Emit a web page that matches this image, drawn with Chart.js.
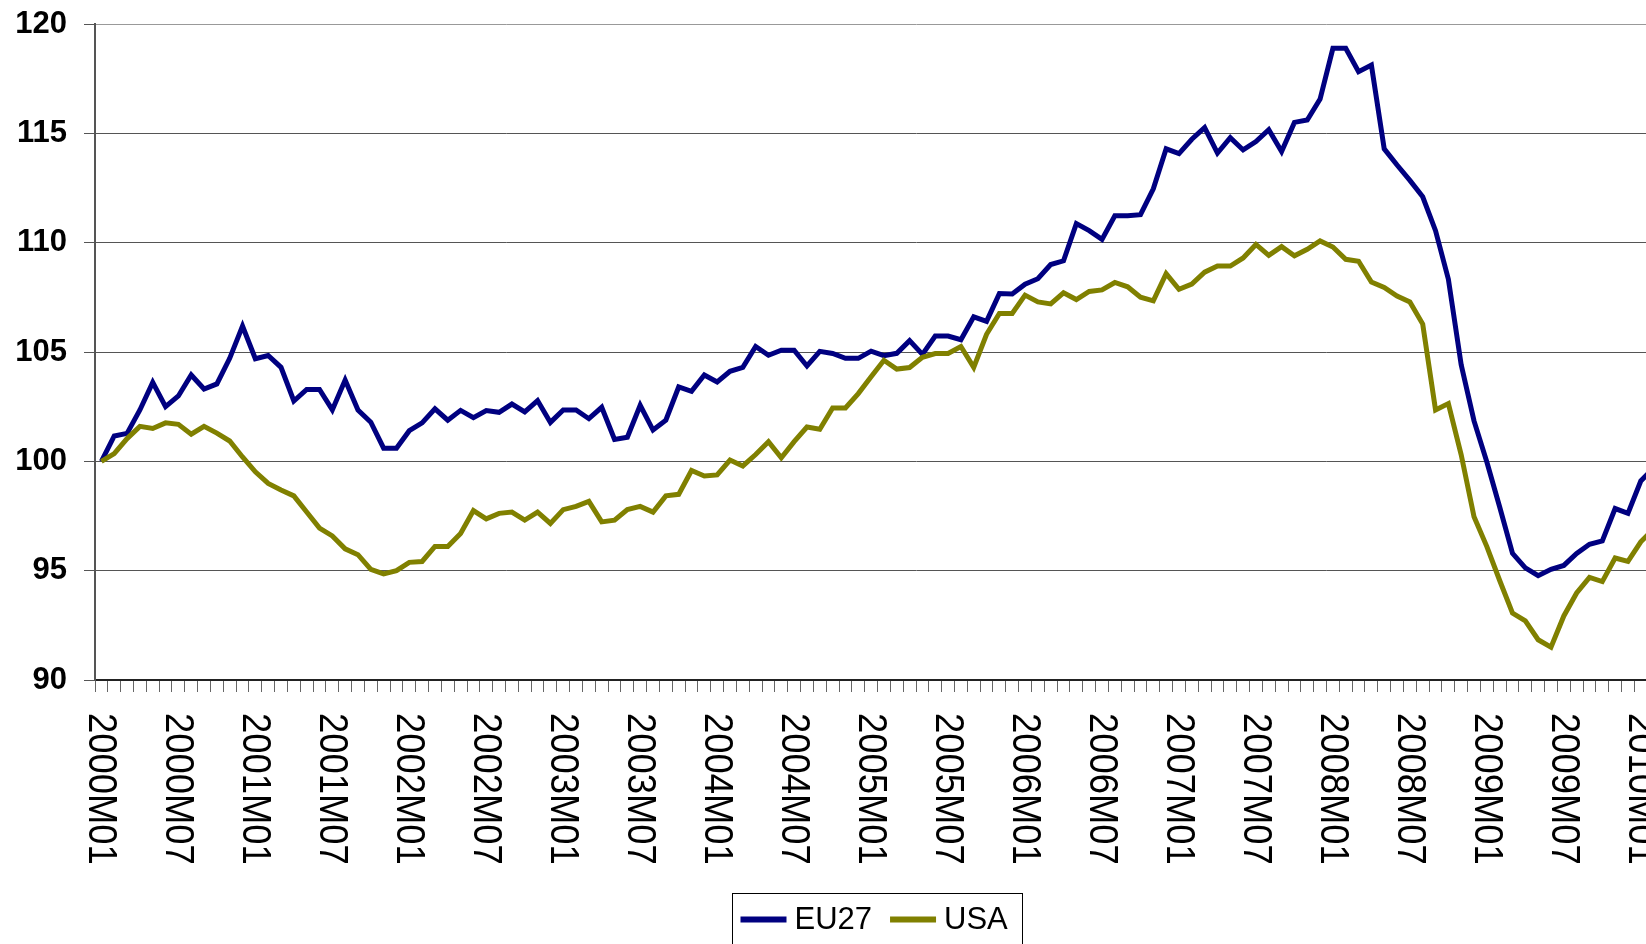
<!DOCTYPE html>
<html>
<head>
<meta charset="utf-8">
<title>EU27 vs USA</title>
<script src="https://cdn.jsdelivr.net/npm/chart.js@4.4.1/dist/chart.umd.min.js"></script>
<style>
  html, body { margin: 0; padding: 0; background: #fff; overflow: hidden; }
  .chart__wrapper { position: absolute; left: 0; top: 0; width: 1737px; height: 944px; }
</style>
</head>
<body>
<div class="chart__wrapper"><canvas id="myChart"></canvas></div>
<script>
"use strict";

// categories: monthly, 2000M01 .. 2010M08 (the right end is cut off by the window)
const years = [2000, 2001, 2002, 2003, 2004, 2005, 2006, 2007, 2008, 2009, 2010];
const monthCodes = ["01", "02", "03", "04", "05", "06", "07", "08", "09", "10", "11", "12"];
const lastMonthIndex = 128;

const months = [];
years.forEach((year) => {
  monthCodes.forEach((m) => {
    if (months.length < lastMonthIndex) months.push(`${year}M${m}`);
  });
});

const seriesNames = ["EU27", "USA"];
const seriesColors = ["#000080", "#808000"];

const eu27 = [
  100.0, 101.16, 101.28, 102.35, 103.61, 102.5, 102.99, 103.95, 103.31, 103.54, 104.71, 106.19,
  104.69, 104.84, 104.3, 102.76, 103.29, 103.29, 102.35, 103.72, 102.35, 101.79, 100.6, 100.6,
  101.4, 101.76, 102.4, 101.88, 102.33, 102.0, 102.32, 102.24, 102.62, 102.26, 102.78, 101.78,
  102.35, 102.35, 101.95, 102.47, 101.0, 101.1, 102.56, 101.43, 101.88, 103.4, 103.2, 103.95,
  103.63, 104.12, 104.3, 105.25, 104.85, 105.08, 105.08, 104.36, 105.03, 104.93, 104.71, 104.71,
  105.04, 104.83, 104.94, 105.52, 104.89, 105.73, 105.73, 105.56, 106.61, 106.4, 107.67, 107.65,
  108.1, 108.35, 109.0, 109.17, 110.87, 110.55, 110.15, 111.23, 111.23, 111.28, 112.46, 114.29,
  114.07, 114.73, 115.26, 114.1, 114.8, 114.24, 114.62, 115.17, 114.17, 115.5, 115.61, 116.57,
  118.89, 118.89, 117.82, 118.12, 114.29, 113.55, 112.85, 112.1, 110.55, 108.33, 104.41, 101.85,
  99.97, 97.91, 95.79, 95.13, 94.77, 95.06, 95.24, 95.79, 96.21, 96.36, 97.84, 97.62,
  99.1, 99.7,
];

const usa = [
  100.0, 100.35, 101.04, 101.6, 101.5, 101.76, 101.69, 101.24, 101.6, 101.29, 100.93, 100.2,
  99.52, 98.99, 98.69, 98.42, 97.68, 96.95, 96.59, 96.0, 95.73, 95.06, 94.85, 95.0,
  95.38, 95.42, 96.11, 96.11, 96.7, 97.75, 97.37, 97.62, 97.68, 97.31, 97.68, 97.16,
  97.79, 97.94, 98.17, 97.23, 97.31, 97.79, 97.94, 97.68, 98.42, 98.49, 99.58, 99.33,
  99.38, 100.06, 99.79, 100.31, 100.9, 100.16, 100.9, 101.57, 101.47, 102.44, 102.44, 103.1,
  103.87, 104.62, 104.22, 104.29, 104.76, 104.93, 104.93, 105.25, 104.3, 105.81, 106.76, 106.76,
  107.6, 107.29, 107.2, 107.71, 107.4, 107.77, 107.84, 108.18, 107.98, 107.51, 107.34, 108.58,
  107.87, 108.11, 108.65, 108.93, 108.93, 109.3, 109.92, 109.42, 109.82, 109.4, 109.7, 110.08,
  109.8, 109.24, 109.15, 108.2, 107.95, 107.56, 107.29, 106.28, 102.35, 102.64, 100.3, 97.47,
  96.1, 94.55, 93.06, 92.7, 91.84, 91.5, 92.93, 93.98, 94.69, 94.5, 95.58, 95.42,
  96.32, 96.9,
];

const yMin = 90;
const yMax = 120;
const yStep = 5;

const FONT = "'Liberation Sans', Arial, sans-serif";

// x labels are written top to bottom (turned clockwise), every 6 months
const xLabelPlugin = {
  id: "xLabels",
  afterDraw(chart) {
    const scale = chart.scales.x;
    const ctx = chart.ctx;
    ctx.save();
    ctx.fillStyle = "#000";
    ctx.font = `40px ${FONT}`;
    ctx.textAlign = "left";
    ctx.textBaseline = "middle";
    scale.ticks.forEach((tick, i) => {
      const label = scale.getLabelForValue(tick.value);
      if (!label.endsWith("M01") && !label.endsWith("M07")) return;
      const x = scale.getPixelForTick(i);
      ctx.save();
      ctx.translate(x, scale.top + 33);
      ctx.rotate(Math.PI / 2);
      ctx.scale(0.91, 1);
      ctx.fillText(label, 0, 1);
      ctx.restore();
    });
    ctx.restore();
  },
};

// boxed legend under the axis labels
const legendPlugin = {
  id: "boxLegend",
  afterDraw(chart) {
    const ctx = chart.ctx;
    const centerX = 877;
    const top = 893;
    const height = 54;
    const lineLen = 46;
    const gap = 8;
    const itemGap = 18;
    const padL = 8;
    const padR = 15;

    ctx.save();
    ctx.font = `31px ${FONT}`;
    const widths = chart.data.datasets.map((ds) => ctx.measureText(ds.label).width);
    let total = padL + padR;
    widths.forEach((w, i) => {
      total += lineLen + gap + w + (i > 0 ? itemGap : 0);
    });
    const left = Math.round(centerX - total / 2) + 0.5;
    const midY = top + 26.5;

    ctx.strokeStyle = "#000";
    ctx.lineWidth = 1;
    ctx.strokeRect(left, top + 0.5, Math.round(total), height);

    let x = left + padL;
    chart.data.datasets.forEach((ds, i) => {
      if (i > 0) x += itemGap;
      ctx.beginPath();
      ctx.strokeStyle = ds.borderColor;
      ctx.lineWidth = 6;
      ctx.moveTo(x, midY);
      ctx.lineTo(x + lineLen, midY);
      ctx.stroke();
      x += lineLen + gap;
      ctx.fillStyle = "#000";
      ctx.textBaseline = "middle";
      ctx.textAlign = "left";
      ctx.fillText(ds.label, x, midY + 1);
      x += widths[i];
    });
    ctx.restore();
  },
};

const generateChart = () => {
  const ctx = document.getElementById("myChart").getContext("2d");

  const chartConfig = {
    type: "line",
    data: {
      labels: months,
      datasets: [
        {
          label: seriesNames[0],
          data: eu27,
          borderColor: seriesColors[0],
          backgroundColor: seriesColors[0],
          borderWidth: 5,
          pointRadius: 0,
          tension: 0,
          order: 1,
        },
        {
          label: seriesNames[1],
          data: usa,
          borderColor: seriesColors[1],
          backgroundColor: seriesColors[1],
          borderWidth: 5,
          pointRadius: 0,
          tension: 0,
          order: 0,
        },
      ],
    },
    options: {
      responsive: true,
      maintainAspectRatio: false,
      animation: false,
      layout: {
        padding: { top: 24, left: 0, right: 0, bottom: 0 },
      },
      plugins: {
        legend: { display: false },
        tooltip: { enabled: false },
      },
      scales: {
        x: {
          offset: true,
          grid: {
            offset: true,
            drawOnChartArea: false,
            drawTicks: true,
            tickLength: 12,
            color: "#666",
            tickColor: "#666",
          },
          border: { color: "#222", width: 2 },
          ticks: { display: false, autoSkip: false, maxRotation: 0 },
          afterFit: (scale) => {
            scale.height = 264;
            scale.paddingLeft = 0;
            scale.paddingRight = 0;
          },
        },
        y: {
          min: yMin,
          max: yMax,
          ticks: {
            stepSize: yStep,
            color: "#000",
            padding: 17,
            font: { family: FONT, size: 31, weight: "bold" },
          },
          grid: {
            color: (c) => (c.tick && c.tick.value === yMax ? "#999" : "#555"),
            tickColor: "#555",
            tickLength: 11,
            lineWidth: 1,
          },
          border: { color: "#555", width: 2 },
          afterFit: (scale) => {
            scale.width = 95;
            scale.paddingTop = 0;
            scale.paddingBottom = 0;
          },
        },
      },
    },
    plugins: [xLabelPlugin, legendPlugin],
  };

  new Chart(ctx, chartConfig);
};

generateChart();
</script>
</body>
</html>
